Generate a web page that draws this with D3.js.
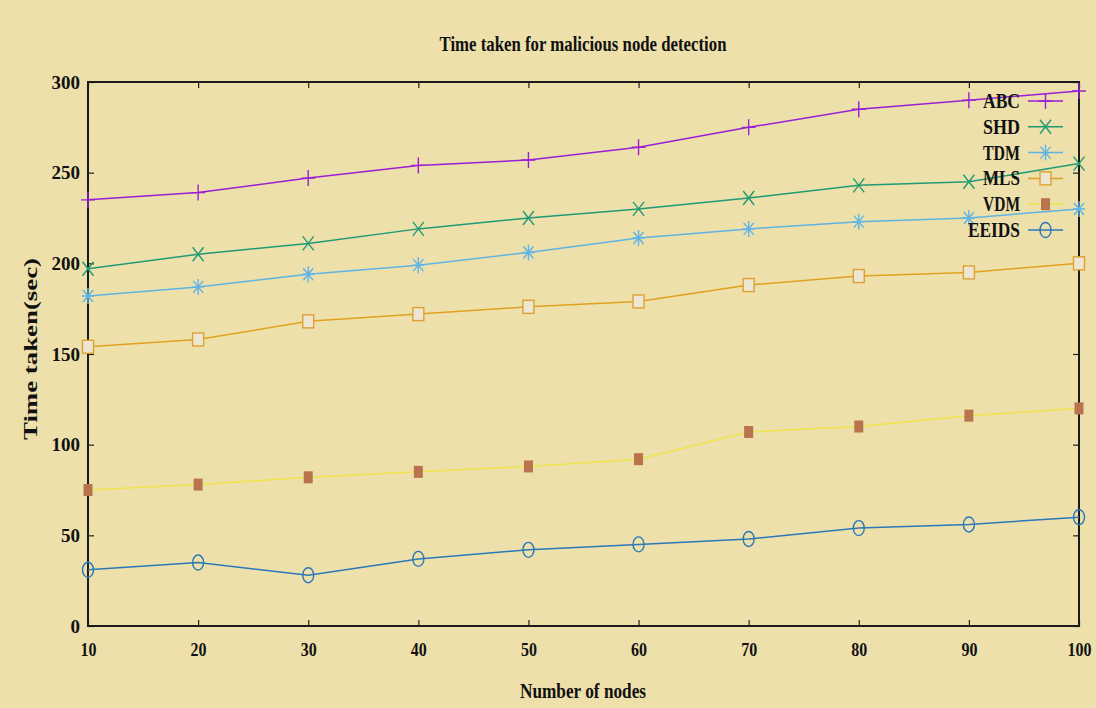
<!DOCTYPE html>
<html>
<head>
<meta charset="utf-8">
<script src="https://cdn.jsdelivr.net/npm/d3@7"></script>
<style>
  html, body { margin: 0; padding: 0; background: #ede0ab; }
  svg { display: block; }
  text { font-family: "Liberation Serif", "Times New Roman", serif; font-weight: bold; fill: #111; }
</style>
</head>
<body>
<svg id="chart" width="1096" height="708"></svg>
<script>
// Number of nodes (x axis)
const nodes = [10, 20, 30, 40, 50, 60, 70, 80, 90, 100];
const yTicks = [0, 50, 100, 150, 200, 250, 300];

// Detection time (sec) for each scheme
const abc   = [235, 239, 247, 254, 257, 264, 275, 285, 290, 295];
const shd   = [197, 205, 211, 219, 225, 230, 236, 243, 245, 255];
const tdm   = [182, 187, 194, 199, 206, 214, 219, 223, 225, 230];
const mls   = [154, 158, 168, 172, 176, 179, 188, 193, 195, 200];
const vdm   = [75, 78, 82, 85, 88, 92, 107, 110, 116, 120];
const eeids = [31, 35, 28, 37, 42, 45, 48, 54, 56, 60];

const seriesNames  = ["ABC", "SHD", "TDM", "MLS", "VDM", "EEIDS"];
const seriesValues = [abc, shd, tdm, mls, vdm, eeids];
const lineColors   = ["#9a1fd6", "#1f9a74", "#5fb4e6", "#e0a020", "#f0e44a", "#2a78b8"];
const markerColors = ["#9a1fd6", "#1f9a74", "#5fb4e6", "#e0a030", "#b8744c", "#2a78b8"];
const markerKinds  = ["plus", "cross", "star", "square", "filled", "circle"];

const svg = d3.select("#chart");
const margin = { left: 88, right: 1079, top: 82, bottom: 626 };

const x = d3.scaleLinear().domain([10, 100]).range([margin.left, margin.right]);
const y = d3.scaleLinear().domain([0, 300]).range([margin.bottom, margin.top]);

// Title and axis labels (tall, condensed lettering)
svg.append("text")
  .attr("x", 583).attr("y", 51)
  .attr("text-anchor", "middle")
  .attr("font-size", 21)
  .attr("textLength", 287).attr("lengthAdjust", "spacingAndGlyphs")
  .text("Time taken for malicious node detection");

svg.append("text")
  .attr("x", 583).attr("y", 698)
  .attr("text-anchor", "middle")
  .attr("font-size", 22)
  .attr("textLength", 126).attr("lengthAdjust", "spacingAndGlyphs")
  .text("Number of nodes");

svg.append("text")
  .attr("transform", "translate(37,349) rotate(-90)")
  .attr("text-anchor", "middle")
  .attr("font-size", 19)
  .attr("textLength", 182).attr("lengthAdjust", "spacingAndGlyphs")
  .text("Time taken(sec)");

// Axes: labels outside, small ticks pointing inward on all four sides
const tickLen = 6;
const axisBottom = d3.axisBottom(x).tickValues(nodes).tickSize(-tickLen).tickPadding(17).tickFormat(d3.format("d"));
const axisLeft = d3.axisLeft(y).tickValues(yTicks).tickSize(-tickLen).tickPadding(8);
const axisTop = d3.axisTop(x).tickValues(nodes).tickSize(-tickLen).tickFormat("");
const axisRight = d3.axisRight(y).tickValues(yTicks).tickSize(-tickLen).tickFormat("");

const gB = svg.append("g").attr("transform", `translate(0,${margin.bottom})`).call(axisBottom);
gB.selectAll(".tick").each(function(d) {
  d3.select(this).select("text")
    .attr("font-size", 19).attr("font-family", "Liberation Serif").attr("font-weight", "bold")
    .attr("textLength", String(d).length * 8).attr("lengthAdjust", "spacingAndGlyphs");
});

const gL = svg.append("g").attr("transform", `translate(${margin.left},0)`).call(axisLeft);
gL.selectAll("text").attr("font-size", 19).attr("font-family", "Liberation Serif").attr("font-weight", "bold");

svg.append("g").attr("transform", `translate(0,${margin.top})`).call(axisTop);
svg.append("g").attr("transform", `translate(${margin.right},0)`).call(axisRight);

svg.selectAll(".domain").remove();
svg.selectAll(".tick line").attr("stroke", "#222").attr("stroke-width", 1.2);
svg.selectAll(".tick text").attr("fill", "#111");

// Plot frame
svg.append("rect")
  .attr("x", margin.left).attr("y", margin.top)
  .attr("width", margin.right - margin.left).attr("height", margin.bottom - margin.top)
  .attr("fill", "none").attr("stroke", "#1a1a1a").attr("stroke-width", 2);

// Marker drawing
function drawMarker(g, kind, color, cx, cy) {
  const s = 7;
  if (kind === "plus") {
    g.append("path").attr("d", `M${cx - s},${cy}H${cx + s}M${cx},${cy - s - 1}V${cy + s + 1}`)
      .attr("stroke", color).attr("stroke-width", 1.4).attr("fill", "none");
  } else if (kind === "cross") {
    g.append("path").attr("d", `M${cx - 5.5},${cy - 7}L${cx + 5.5},${cy + 7}M${cx + 5.5},${cy - 7}L${cx - 5.5},${cy + 7}`)
      .attr("stroke", color).attr("stroke-width", 1.4).attr("fill", "none");
  } else if (kind === "star") {
    g.append("path").attr("d", `M${cx - 6},${cy}H${cx + 6}M${cx},${cy - 8}V${cy + 8}M${cx - 5},${cy - 6}L${cx + 5},${cy + 6}M${cx + 5},${cy - 6}L${cx - 5},${cy + 6}`)
      .attr("stroke", color).attr("stroke-width", 1.4).attr("fill", "none");
  } else if (kind === "square") {
    g.append("rect").attr("x", cx - 5.5).attr("y", cy - 6.5).attr("width", 11).attr("height", 13)
      .attr("fill", "#ece6d3").attr("stroke", color).attr("stroke-width", 1.4);
  } else if (kind === "filled") {
    g.append("rect").attr("x", cx - 4.5).attr("y", cy - 6).attr("width", 9).attr("height", 12)
      .attr("fill", color);
  } else if (kind === "circle") {
    g.append("ellipse").attr("cx", cx).attr("cy", cy).attr("rx", 5.5).attr("ry", 7.5)
      .attr("fill", "none").attr("stroke", color).attr("stroke-width", 1.4);
  }
}

const line = d3.line().x((d, i) => x(nodes[i])).y(d => y(d));

seriesValues.forEach((vals, k) => {
  const g = svg.append("g");
  g.append("path").datum(vals).attr("d", line)
    .attr("fill", "none").attr("stroke", lineColors[k]).attr("stroke-width", 1.5);
  vals.forEach((v, i) => drawMarker(g, markerKinds[k], markerColors[k], x(nodes[i]), y(v)));
});

// Legend
const legendY0 = 101, legendStep = 25.8;
seriesNames.forEach((name, k) => {
  const ly = legendY0 + k * legendStep;
  const g = svg.append("g");
  g.append("text").attr("x", 1020).attr("y", ly + 7)
    .attr("text-anchor", "end").attr("font-size", 21)
    .attr("textLength", name.length === 5 ? 52 : 37).attr("lengthAdjust", "spacingAndGlyphs")
    .text(name);
  g.append("line").attr("x1", 1028).attr("x2", 1063).attr("y1", ly).attr("y2", ly)
    .attr("stroke", lineColors[k]).attr("stroke-width", 1.5);
  drawMarker(g, markerKinds[k], markerColors[k], 1045.5, ly);
});
</script>
</body>
</html>
